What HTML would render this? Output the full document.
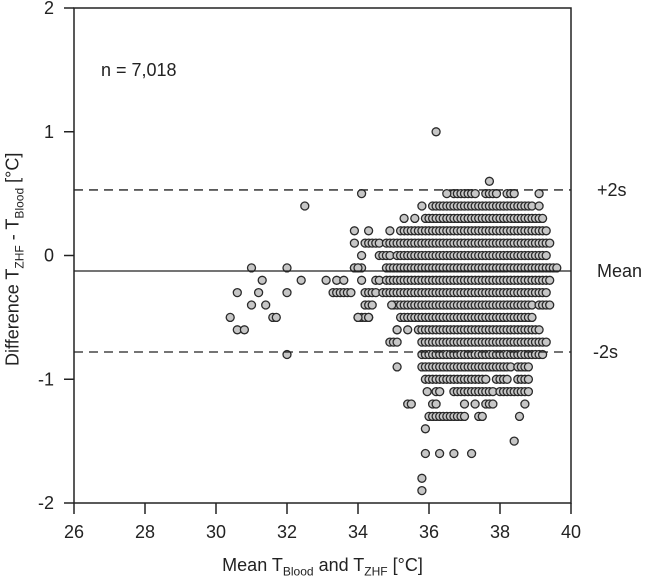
<!DOCTYPE html>
<html><head><meta charset="utf-8"><style>
html,body{margin:0;padding:0;background:#fff;}
svg{display:block;font-family:"Liberation Sans",Arial,sans-serif;}
</style></head><body>
<svg id="chart" width="645" height="582" viewBox="0 0 645 582">
<g id="marks"></g>
<g id="axes"></g>
</svg>
<script>
const xTicks=[26,28,30,32,34,36,38,40];
const yTicks=[-2,-1,0,1,2];
const meanDiff=-0.125, upperLoA=0.53, lowerLoA=-0.78;
// dense rows: difference value and x ranges [start,end] (filled at 0.1 steps)
const rowDiffs=[0.5,0.4,0.3,0.2,0.1,0.0,-0.1,-0.2,-0.3,-0.4,-0.5,-0.6,-0.7,-0.8,-0.9,-1.0,-1.1,-1.2,-1.3];
const rowRanges=[
 [[36.7,37.3],[37.6,37.9],[38.2,38.4]],
 [[36.1,38.9]],
 [[35.9,39.2]],
 [[35.2,39.3]],
 [[34.2,34.6],[34.8,39.4]],
 [[34.6,34.9],[35.1,39.3]],
 [[33.9,34.1],[34.8,39.6]],
 [[34.5,34.6],[34.8,39.4]],
 [[33.3,33.8],[34.2,34.5],[34.7,39.3]],
 [[34.2,34.4],[35.0,38.9],[39.1,39.4]],
 [[34.0,34.3],[35.2,38.9]],
 [[35.1,35.1],[35.4,35.4],[35.7,39.1]],
 [[34.9,35.1],[35.8,39.3]],
 [[35.8,39.2]],
 [[35.8,37.8],[37.9,38.3],[38.5,38.8]],
 [[35.9,36.7],[36.8,37.6],[37.9,38.2],[38.5,38.8]],
 [[36.2,36.3],[36.7,37.8],[38.0,38.8]],
 [[35.4,35.5],[36.1,36.2],[37.6,37.8]],
 [[36.0,37.0],[37.4,37.5]]
];
// sparse individual points
const ptX=[36.2,37.7,36.5,39.1,34.1,32.5,35.8,39.1,35.3,35.6,33.9,34.3,34.9,33.9,34.1,31.0,32.0,33.9,34.0,31.3,32.4,33.1,33.4,33.6,34.1,30.6,31.2,32.0,31.0,31.4,30.4,31.6,31.7,34.0,34.3,30.6,30.8,32.0,35.1,35.1,34.95,35.95,37.0,37.3,38.7,38.55,35.9,38.4,35.9,36.3,36.7,37.2,35.8,35.8];
const ptY=[1.0,0.6,0.5,0.5,0.5,0.4,0.4,0.4,0.3,0.3,0.2,0.2,0.2,0.1,0.0,-0.1,-0.1,-0.1,-0.1,-0.2,-0.2,-0.2,-0.2,-0.2,-0.2,-0.3,-0.3,-0.3,-0.4,-0.4,-0.5,-0.5,-0.5,-0.5,-0.5,-0.6,-0.6,-0.8,-0.9,-0.6,-0.4,-1.1,-1.2,-1.2,-1.2,-1.3,-1.4,-1.5,-1.6,-1.6,-1.6,-1.6,-1.8,-1.9];

const L=74,R=571,T=8,B=503;
function sx(v){return L+(v-26)/(40-26)*(R-L);}
function sy(v){return B-(v+2)/4*(B-T);}
const NS="http://www.w3.org/2000/svg";
function mk(tag,attrs,parent){const e=document.createElementNS(NS,tag);for(const k in attrs)e.setAttribute(k,attrs[k]);parent.appendChild(e);return e;}
const marks=document.getElementById('marks'),axes=document.getElementById('axes');
function dot(x,y){
 const c=mk('circle',{cx:sx(x).toFixed(1),cy:sy(y).toFixed(1),r:4,fill:'#c6c6c6',stroke:'#2a2a2a','stroke-width':1.3},marks);
 
 
}
rowDiffs.forEach((d,i)=>{rowRanges[i].forEach(r=>{for(let x=r[0];x<=r[1]+1e-6;x+=0.1)dot(x,d);});});
ptX.forEach((x,i)=>dot(x,ptY[i]));

const lines=[[meanDiff,null,'mean-line'],[upperLoA,'9,6','upper-limit-line'],[lowerLoA,'9,6','lower-limit-line']];
lines.forEach(l=>{
 const e=mk('line',{x1:L,x2:R,y1:sy(l[0]),y2:sy(l[0]),stroke:'#222','stroke-width':1.3},axes);
 if(l[1])e.setAttribute('stroke-dasharray',l[1]);
 
 
});
const frame=mk('rect',{x:L,y:T,width:R-L,height:B-T,fill:'none',stroke:'#222','stroke-width':1.5},axes);


xTicks.forEach(v=>{
 const t=mk('line',{x1:sx(v),x2:sx(v),y1:B,y2:B+11,stroke:'#222','stroke-width':1.5},axes);
 
 
 const s=mk('text',{x:sx(v),y:B+35,'text-anchor':'middle','font-size':18,fill:'#222'},axes);
 s.textContent=v;
 
 
});
yTicks.forEach(v=>{
 const t=mk('line',{x1:L-10,x2:L,y1:sy(v),y2:sy(v),stroke:'#222','stroke-width':1.5},axes);
 
 
 const s=mk('text',{x:54,y:sy(v)+6,'text-anchor':'end','font-size':18,fill:'#222'},axes);
 s.textContent=v;
 
 
});
const labs=[['+2s',upperLoA,'upper-limit-label',597],['Mean',meanDiff,'mean-label',597],['-2s',lowerLoA,'lower-limit-label',593]];
labs.forEach(l=>{
 const s=mk('text',{x:l[3],y:sy(l[1])+6,'font-size':18,fill:'#222'},axes);
 s.textContent=l[0];
 
 
});
</script>
<div style="position:absolute;left:0;top:0;width:645px;height:582px;pointer-events:none;font-family:'Liberation Sans',Arial,sans-serif;color:#222;">
 <div style="position:absolute;left:101px;top:60px;font-size:18px;">n = 7,018</div>
 <div style="position:absolute;left:0;width:645px;top:555px;text-align:center;font-size:18px;">Mean T<sub style="font-size:12px">Blood</sub> and T<sub style="font-size:12px">ZHF</sub> [°C]</div>
 <div style="position:absolute;left:16px;top:256px;width:400px;margin-left:-200px;text-align:center;font-size:18px;transform:rotate(-90deg);line-height:20px;margin-top:-10px;">Difference T<sub style="font-size:12px">ZHF</sub> - T<sub style="font-size:12px">Blood</sub> [°C]</div>
</div>
</body></html>
